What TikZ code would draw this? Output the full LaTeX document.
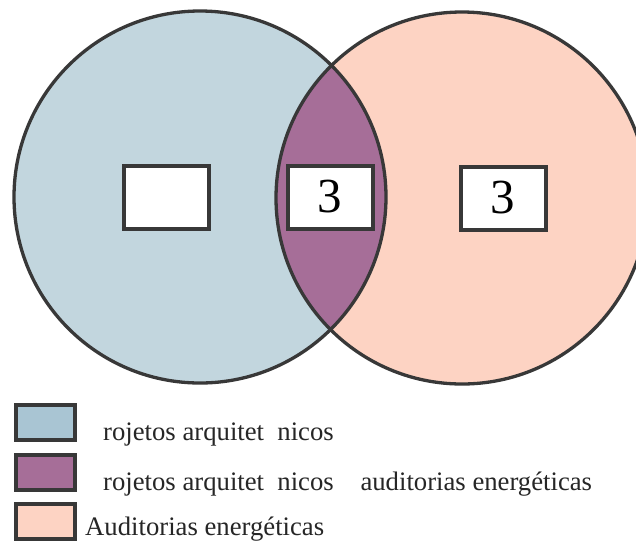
\documentclass[tikz,border=0pt]{standalone}
\usepackage{fontspec}
\setmainfont{Liberation Serif}
\definecolor{leftfill}{HTML}{C2D6DE}
\definecolor{rightfill}{HTML}{FDD3C3}
\definecolor{lensfill}{HTML}{A66E98}
\definecolor{legblue}{HTML}{A9C5D3}
\definecolor{edge}{HTML}{383838}
\tikzset{
  setcircle/.style={circle, minimum size=372pt, inner sep=0pt, draw=edge, line width=3.3pt},
  numbox/.style={draw=edge, line width=4pt, fill=white, minimum width=85pt, minimum height=63pt, inner sep=0pt, font=\fontsize{49}{49}\selectfont},
  legbox/.style={draw=edge, line width=4pt, minimum width=59pt, minimum height=35pt, inner sep=0pt},
  legtext/.style={anchor=base west, inner sep=0pt, font=\fontsize{26.7}{26.7}\selectfont, text=black!85}
}
\begin{document}
\begin{tikzpicture}[x=1pt, y=-1pt]
\clip (0,0) rectangle (636,542);
\fill[white] (0,0) rectangle (636,542);
% circle fills
\fill[leftfill] (200,197) circle (186);
\fill[rightfill] (462,198) circle (186);
\begin{scope}
  \clip (200,197) circle (186);
  \fill[lensfill] (462,198) circle (186);
\end{scope}
\node[setcircle] (A) at (200,197) {};
\node[setcircle] (B) at (462,198) {};
% number boxes
\node[numbox] (n1) at (166,197) {};
\node[numbox] (n2) at (330,197) {3};
\node[numbox] (n3) at (503,198) {3};
% legend
\node[legbox, fill=legblue] (l1) at (45,422) {};
\node[legbox, fill=lensfill] (l2) at (45,472) {};
\node[legbox, fill=rightfill] (l3) at (45,521) {};
\node[legtext] (t1) at (103,440) {rojetos arquitet\ \ nicos};
\node[legtext] (t2) at (103,490) {rojetos arquitet\ \ nicos\ \ \ \ auditorias energéticas};
\node[legtext] (t3) at (85,535) {Auditorias energéticas};
\end{tikzpicture}
\end{document}
